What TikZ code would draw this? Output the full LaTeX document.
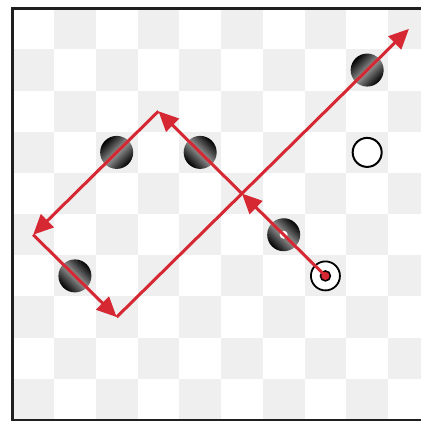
\documentclass[tikz,border=0pt]{standalone}
\usetikzlibrary{arrows.meta}
\definecolor{jumpred}{RGB}{214,40,50}
\definecolor{sq}{RGB}{239,239,239}
\begin{document}
\begin{tikzpicture}[x=1pt,y=-1pt,
  jump/.style={draw=jumpred, line width=3pt, -{Triangle[length=20pt,width=18pt]}},
  blackpiece/.style={circle, minimum size=33pt, inner sep=0pt, top color=black, bottom color=black, middle color=black!42},
  hole/.style={circle, fill=white, minimum size=8pt, inner sep=0pt},
  whitepiece/.style={circle, draw=black, line width=2pt, fill=white, minimum size=29pt, inner sep=0pt},
  targetring/.style={circle, draw=black, line width=1.8pt, fill=white, minimum size=29pt, inner sep=0pt},
  innerring/.style={circle, draw=black, line width=1.5pt, fill=jumpred, minimum size=10pt, inner sep=0pt},
  reddot/.style={circle, fill=jumpred, minimum size=5pt, inner sep=0pt},
  border/.style={draw=black!88, line width=2.5pt}
]
\useasboundingbox (0,0) rectangle (421,424);
\fill[white] (0,0) rectangle (421,424);
\begin{scope}
  \clip (0,0) rectangle (421,424);
  \foreach \c in {0,...,9} \foreach \r in {0,...,9} {
    \pgfmathtruncatemacro\odd{mod(\c+\r,2)}
    \ifnum\odd=1
      \fill[sq] ({12.3+41.75*\c},{8.3+41.17*\r}) rectangle ++(41.75,41.17);
    \fi
  }
\end{scope}
\foreach \c in {0,...,9} \foreach \r in {0,...,9} {
  \coordinate (c\c\r) at ({12.3+41.75*(\c+0.5)},{8.3+41.17*(\r+0.5)});
}
\coordinate (bTR) at (421,8.3);
\coordinate (bTL) at (12.3,8.3);
\coordinate (bBL) at (12.3,420);
\coordinate (bBR) at (421,420);
\draw[border] (bTR) -- (bTL) -- (bBL) -- (bBR);
% pieces
\node[blackpiece, shading angle=45] (p81) at (c81) {};
\node[blackpiece, shading angle=45] (p23) at (c23) {};
\node[blackpiece, shading angle=-45] (p43) at (c43) {};
\node[blackpiece, shading angle=-45] (p65) at (c65) {};
\node[hole] (h65) at (c65) {};
\node[blackpiece, shading angle=-45] (p16) at (c16) {};
\node[whitepiece] (w83) at (c83) {};
\node[targetring] (t76) at (c76) {};
\node[innerring] (i76) at (c76) {};
% jumps
\draw[jump] (c76) -- (c54);
\draw[jump] (c54) -- (c32);
\draw[jump] (c32) -- (c05);
\draw[jump] (c05) -- (c27);
\draw[jump] (c27) -- (c90);
\end{tikzpicture}
\end{document}
